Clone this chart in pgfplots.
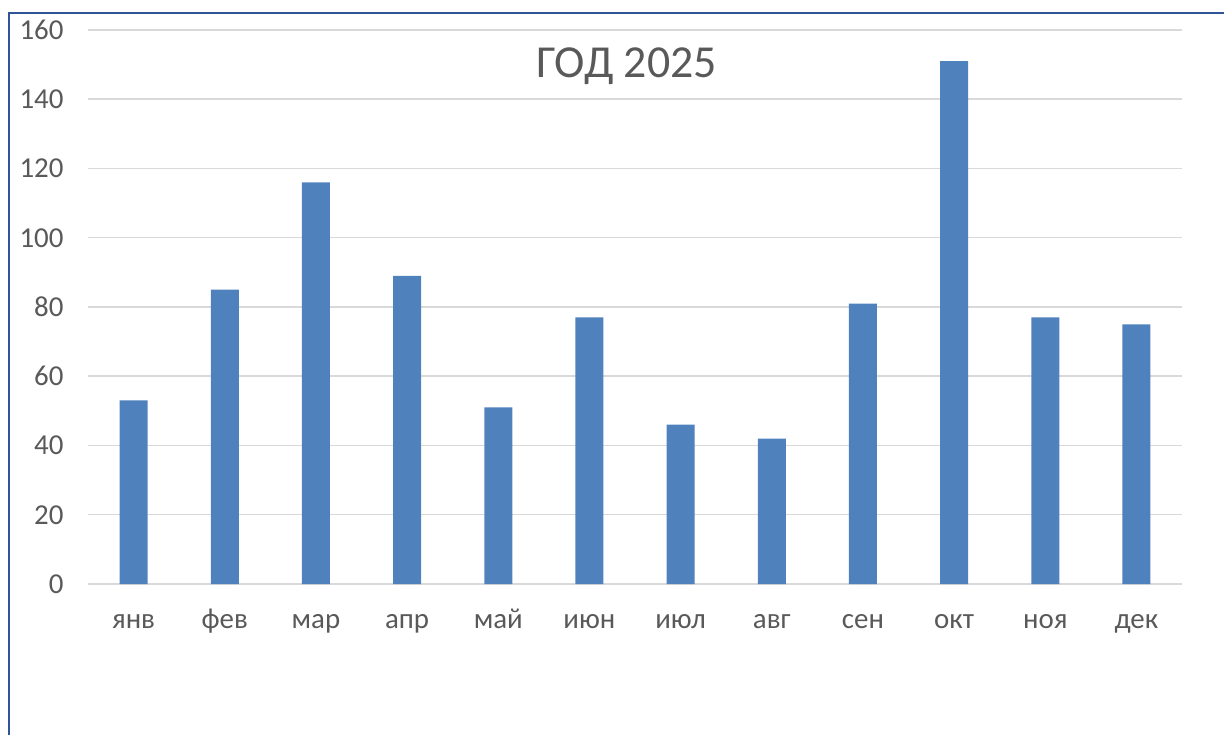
\documentclass[border=0pt]{standalone}
\usepackage{fontspec}
\setmainfont{Carlito}
\usepackage{pgfplots}
\pgfplotsset{compat=1.18}
\definecolor{barblue}{HTML}{4F81BD}
\definecolor{txtgray}{HTML}{595959}
\definecolor{gridgray}{HTML}{D9D9D9}
\definecolor{framebl}{HTML}{2F5597}
\begin{document}
\begin{tikzpicture}
\useasboundingbox (-88bp,-151bp) rectangle (1136bp,584bp);
\draw[framebl, line width=2bp] (-79bp,-152bp) -- (-79bp,571bp) -- (1137bp,571bp);
\begin{axis}[
  at={(0,0)}, anchor=south west,
  scale only axis, width=1094bp, height=554bp,
  xmin=-0.5, xmax=11.5, ymin=0, ymax=160,
  ytick={0,20,...,160},
  xtick={0,...,11},
  xticklabels={янв,фев,мар,апр,май,июн,июл,авг,сен,окт,ноя,дек},
  axis line style={draw=none},
  major tick length=0pt,
  ymajorgrids, grid style={gridgray, line width=1.5bp},
  tick label style={font=\fontsize{29}{31}\selectfont, text=txtgray},
  /pgf/number format/assume math mode=true,
  yticklabel style={anchor=east, xshift=-21bp},
  xticklabel style={anchor=base, yshift=-44bp},
  ybar, bar width=28bp,
  clip=false,
]
\addplot[fill=barblue, draw=none] coordinates {
(0,53) (1,85) (2,116) (3,89) (4,51) (5,77) (6,46) (7,42) (8,81) (9,151) (10,77) (11,75)
};
\node[text=txtgray, font=\fontsize{46}{48}\selectfont] at (axis description cs:0.4925,0.935) {ГОД 2025};
\end{axis}
\end{tikzpicture}
\end{document}
